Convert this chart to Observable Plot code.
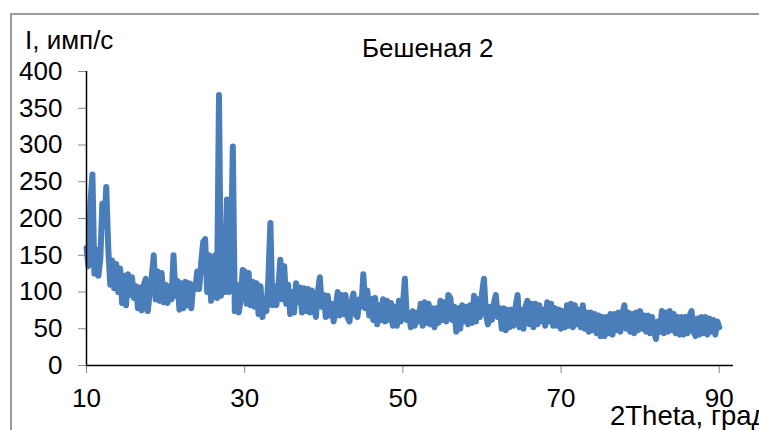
<!DOCTYPE html>
<html><head><meta charset="utf-8">
<script src="https://cdn.jsdelivr.net/npm/d3@7"></script>
<script src="https://cdn.jsdelivr.net/npm/@observablehq/plot@0.6"></script>
<style>
body{margin:0;background:#fff;}
#wrap{position:relative;width:759px;height:430px;overflow:hidden;font-family:"Liberation Sans",Arial,sans-serif;background:#fff;}
#frame{position:absolute;left:10px;top:13px;width:800px;height:500px;border-left:2px solid #9c9c9c;border-top:2px solid #9c9c9c;box-sizing:border-box;}
#chart{position:absolute;left:0;top:0;}
.t{position:absolute;color:#000;white-space:nowrap;line-height:1;}
</style></head>
<body>
<div id="wrap">
  <div id="frame"></div>
  <div id="chart"></div>
  <div class="t" id="ylab" style="left:25px;top:27px;font-size:26px;">I, имп/с</div>
  <div class="t" id="title" style="left:362px;top:35px;font-size:26px;">Бешеная 2</div>
  <div class="t" id="xlab" style="left:610px;top:402px;font-size:27.5px;">2Theta, град</div>
</div>
<script>
// 2Theta grid: start and step (degrees)
const thetaStart = 10;
const thetaStep = 0.25;
// Intensity, imp/s (4 samples per degree)
const intensity = [
  160,135,222,260,   // 10
  125,158,122,145,   // 11
  220,190,243,160,   // 12
  110,143,105,138,   // 13
  100,132,85,122,    // 14
  82,124,96,120,     // 15
  92,108,78,106,     // 16
  75,110,118,74,     // 17
  100,120,150,90,    // 18
  128,88,126,86,     // 19
  110,85,108,90,     // 20
  150,95,115,76,     // 21
  112,78,114,82,     // 22
  112,78,110,104,    // 23
  128,104,140,168,   // 24
  172,100,150,88,    // 25
  112,150,92,368,    // 26
  95,150,100,226,    // 27
  100,140,298,74,    // 28
  110,72,90,130,     // 29
  128,84,126,82,     // 30
  114,80,112,70,     // 31
  108,66,90,74,      // 32
  120,194,82,108,    // 33
  82,104,144,90,     // 34
  135,84,110,70,     // 35
  100,72,112,86,     // 36
  106,72,105,74,     // 37
  104,72,102,80,     // 38
  66,100,120,80,     // 39
  96,66,95,68,       // 40
  84,60,78,100,      // 41
  68,96,70,96,       // 42
  66,60,86,98,       // 43
  70,66,90,80,       // 44
  124,78,102,68,     // 45
  90,62,92,56,       // 46
  82,62,90,60,       // 47
  88,62,85,54,       // 48
  80,54,88,60,       // 49
  82,118,62,72,      // 50
  52,74,54,72,       // 51
  60,84,54,86,       // 52
  58,84,56,78,       // 53
  52,78,58,88,       // 54
  62,86,60,96,       // 55
  92,62,80,46,       // 56
  78,50,82,60,       // 57
  80,56,82,58,       // 58
  95,60,90,66,       // 59
  98,118,70,56,      // 60
  80,62,84,96,       // 61
  66,78,50,78,       // 62
  48,76,52,76,       // 63
  54,80,96,52,       // 64
  76,50,80,88,       // 65
  56,84,52,84,       // 66
  56,82,60,76,       // 67
  54,86,60,84,       // 68
  54,78,54,76,       // 69
  50,74,52,82,       // 70
  54,84,52,82,       // 71
  56,76,52,82,       // 72
  50,72,46,72,       // 73
  48,70,44,68,       // 74
  40,66,40,66,       // 75
  44,70,42,70,       // 76
  48,72,46,70,       // 77
  82,50,72,46,       // 78
  70,44,72,48,       // 79
  74,50,68,46,       // 80
  68,44,66,46,       // 81
  36,60,46,74,       // 82
  44,72,46,74,       // 83
  48,70,44,66,       // 84
  42,66,42,66,       // 85
  44,68,74,46,       // 86
  40,64,42,66,       // 87
  44,66,42,64,       // 88
  46,62,42,60,       // 89
  52                 // 90
];
const xTicks = [10, 30, 50, 70, 90];
const yTicks = [0, 50, 100, 150, 200, 250, 300, 350, 400];

const data = intensity.map((v, i) => ({theta: thetaStart + i * thetaStep, I: v}));

const chart = Plot.plot({
  width: 759,
  height: 430,
  marginLeft: 86,
  marginRight: 26,
  marginTop: 71,
  marginBottom: 65,
  style: {background: "transparent", fontFamily: "'Liberation Sans', Arial, sans-serif", color: "black"},
  x: {domain: [10, 91.8]},
  y: {domain: [0, 400]},
  marks: [
    Plot.axisY({ticks: yTicks, tickSize: 8, tickPadding: 16, fontSize: 26, stroke: "#888", fill: "black", label: null}),
    Plot.axisX({ticks: xTicks, tickSize: 8, tickPadding: 15, fontSize: 26, stroke: "#888", fill: "black", label: null}),
    Plot.line(data, {x: "theta", y: "I", stroke: "#4a7ebb", strokeWidth: 6, strokeLinejoin: "round", strokeLinecap: "round"}),
    Plot.ruleX([10], {stroke: "black", strokeWidth: 1.5}),
    Plot.ruleY([0], {stroke: "black", strokeWidth: 1.5})
  ]
});
document.getElementById("chart").appendChild(chart);
</script>
</body></html>
